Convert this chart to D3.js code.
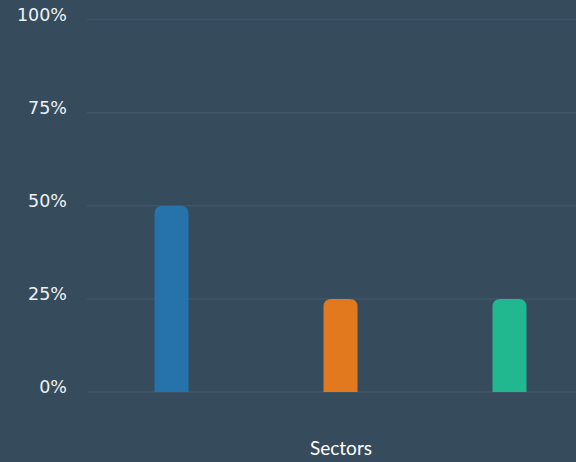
<!DOCTYPE html>
<html>
<head>
<meta charset="utf-8">
<script src="https://cdn.jsdelivr.net/npm/d3@7"></script>
<style>
  html, body { margin: 0; padding: 0; background: #364b5c; }
</style>
</head>
<body>
<div id="chart"></div>
<script>
// chart data
const categories = ["A", "B", "C"];
const values = [0.5, 0.25, 0.25];
const colors = ["#2573aa", "#e2791f", "#22b88f"];
const yTicks = [0, 0.25, 0.5, 0.75, 1];
const xTitle = "Sectors";

const width = 576, height = 462;
const margin = {top: 19.5, right: 0, bottom: 70, left: 87};

const svg = d3.select("#chart")
    .append("svg")
    .attr("width", width)
    .attr("height", height)
    .style("background", "#364b5c");

// x scale: three bands, the last one runs past the right edge
const x = d3.scaleBand()
    .domain(categories)
    .range([margin.left, margin.left + 169 * 3]);

const y = d3.scaleLinear()
    .domain([0, 1])
    .range([392, margin.top]);

// grid lines
svg.append("g")
    .selectAll("line")
    .data(yTicks)
    .join("line")
    .attr("x1", margin.left)
    .attr("x2", width)
    .attr("y1", d => y(d))
    .attr("y2", d => y(d))
    .attr("stroke", "#3f5668")
    .attr("stroke-width", 1.5);

// tick labels
svg.append("g")
    .selectAll("text")
    .data(yTicks)
    .join("text")
    .attr("x", 67)
    .attr("y", d => y(d) - 4)
    .attr("text-anchor", "end")
    .attr("dominant-baseline", "middle")
    .attr("fill", "#eef2f5")
    .style("font-family", "DejaVu Sans")
    .style("font-size", "17.5px")
    .text(d => d3.format(".0%")(d));

// bars with rounded top corners
const barW = 34, r = 8;
function barPath(d, i) {
    const cx = x(categories[i]) + x.bandwidth() / 2;
    const x0 = cx - barW / 2, x1 = cx + barW / 2;
    const y0 = y(0), y1 = y(d);
    return `M${x0},${y0} L${x0},${y1 + r} Q${x0},${y1} ${x0 + r},${y1} L${x1 - r},${y1} Q${x1},${y1} ${x1},${y1 + r} L${x1},${y0} Z`;
}

svg.append("g")
    .selectAll("path")
    .data(values)
    .join("path")
    .attr("d", barPath)
    .attr("fill", (d, i) => colors[i]);

// axis title
svg.append("text")
    .attr("x", 341)
    .attr("y", 455)
    .attr("text-anchor", "middle")
    .attr("fill", "#ffffff")
    .style("font-family", "Lato")
    .style("font-size", "19px")
    .text(xTitle);
</script>
</body>
</html>
